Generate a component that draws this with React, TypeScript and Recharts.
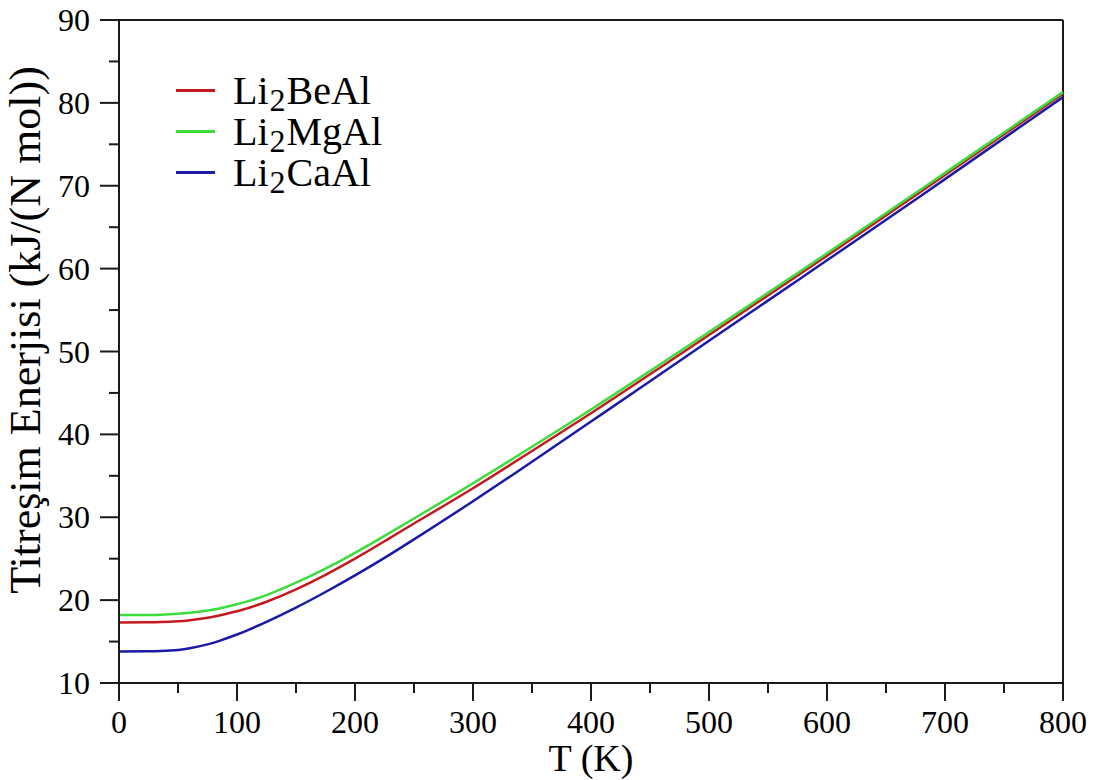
import { LineChart, Line, XAxis, YAxis, ReferenceLine, Legend } from 'recharts';

// temperature grid (K)
const temperatures = [0, 25, 35, 50, 60, 75, 85, 100, 110, 125, 150, 175, 200, 225, 250, 300, 350, 400, 450, 500, 600, 700, 800];

// vibrational energy, kJ/(N mol)
const li2BeAl = [17.3, 17.32, 17.35, 17.45, 17.58, 17.88, 18.15, 18.65, 19.07, 19.8, 21.3, 23.05, 25.0, 27.1, 29.25, 33.5, 38.0, 42.55, 47.25, 52.0, 61.55, 71.3, 81.1];
const li2MgAl = [18.2, 18.22, 18.25, 18.35, 18.47, 18.75, 19.0, 19.5, 19.9, 20.6, 22.1, 23.8, 25.7, 27.75, 29.85, 34.1, 38.5, 43.0, 47.65, 52.35, 61.85, 71.55, 81.3];
const li2CaAl = [13.8, 13.82, 13.86, 13.99, 14.19, 14.66, 15.08, 15.85, 16.43, 17.38, 19.1, 20.98, 22.98, 25.1, 27.33, 31.93, 36.7, 41.55, 46.4, 51.3, 61.0, 70.8, 80.7];

const xTicks = [0, 50, 100, 150, 200, 250, 300, 350, 400, 450, 500, 550, 600, 650, 700, 750, 800];
const yTicks = [10, 15, 20, 25, 30, 35, 40, 45, 50, 55, 60, 65, 70, 75, 80, 85, 90];

const series = [
    { key: 'be', name: 'BeAl', color: '#c41a1f' },
    { key: 'mg', name: 'MgAl', color: '#3ddc3d' },
    { key: 'ca', name: 'CaAl', color: '#1a1aa6' },
];

const chartData = temperatures.map((t, i) => ({
    t,
    be: li2BeAl[i],
    mg: li2MgAl[i],
    ca: li2CaAl[i],
}));

const FONT = 'Liberation Serif, serif';
const AXIS = '#1a1a1a';

function XTick(props: any) {
    const { x, y, payload } = props;
    const major = payload.value % 100 === 0;
    return (
        <g>
            <line x1={x} x2={x} y1={y} y2={y + (major ? 18 : 10)} stroke={AXIS} strokeWidth={2} />
            {major && (
                <text x={x} y={y + 50} textAnchor="middle" fill="#000" fontFamily={FONT} fontSize={32}>
                    {payload.value}
                </text>
            )}
        </g>
    );
}

function YTick(props: any) {
    const { x, y, payload } = props;
    const major = payload.value % 10 === 0;
    return (
        <g>
            <line x1={x - (major ? 19 : 10)} x2={x} y1={y} y2={y} stroke={AXIS} strokeWidth={2} />
            {major && (
                <text x={x - 29} y={y + 11} textAnchor="end" fill="#000" fontFamily={FONT} fontSize={32}>
                    {payload.value}
                </text>
            )}
        </g>
    );
}

function LegendBox() {
    return (
        <div style={{ fontFamily: FONT }}>
            {series.map((s) => (
                <div key={s.key} style={{ display: 'flex', alignItems: 'center', height: 41 }}>
                    <span style={{ display: 'inline-block', width: 39, height: 3, background: s.color }} />
                    <span style={{ marginLeft: 18, fontSize: 40, lineHeight: '41px', whiteSpace: 'nowrap' }}>
                        Li<span style={{ fontSize: 32, verticalAlign: -7, lineHeight: 0, margin: '0 1px' }}>2</span>{s.name}
                    </span>
                </div>
            ))}
        </div>
    );
}

export default function App() {
    return (
        <div style={{ position: 'absolute', left: 0, top: 0, width: 1093, height: 780, background: '#fff', fontFamily: FONT }}>
            <LineChart width={1093} height={780} data={chartData} margin={{ top: 20, right: 30, bottom: 0, left: 0 }}>
                <XAxis
                    type="number"
                    dataKey="t"
                    domain={[0, 800]}
                    ticks={xTicks}
                    interval={0}
                    tick={<XTick />}
                    tickLine={false}
                    tickSize={0}
                    tickMargin={0}
                    axisLine={{ stroke: AXIS, strokeWidth: 2 }}
                    height={97}
                    label={{
                        content: () => (
                            <text x={591} y={771} textAnchor="middle" fill="#000" fontFamily={FONT} fontSize={38}>
                                T (K)
                            </text>
                        ),
                    }}
                />
                <YAxis
                    type="number"
                    domain={[10, 90]}
                    ticks={yTicks}
                    interval={0}
                    tick={<YTick />}
                    tickLine={false}
                    tickSize={0}
                    tickMargin={0}
                    axisLine={{ stroke: AXIS, strokeWidth: 2 }}
                    width={119}
                    label={{
                        content: () => (
                            <text
                                transform="translate(40, 330) rotate(-90)"
                                textAnchor="middle"
                                fill="#000"
                                fontFamily={FONT}
                                fontSize={44}
                            >
                                Titreşim Enerjisi (kJ/(N mol))
                            </text>
                        ),
                    }}
                />
                <ReferenceLine y={90} stroke={AXIS} strokeWidth={2} />
                <ReferenceLine x={800} stroke={AXIS} strokeWidth={2} />
                <Line type="natural" dataKey="ca" stroke="#1a1aa6" strokeWidth={2.5} dot={false} isAnimationActive={false} />
                <Line type="natural" dataKey="be" stroke="#c41a1f" strokeWidth={2.5} dot={false} isAnimationActive={false} />
                <Line type="natural" dataKey="mg" stroke="#3ddc3d" strokeWidth={2.5} dot={false} isAnimationActive={false} />
                <Legend
                    layout="vertical"
                    align="center"
                    verticalAlign="middle"
                    content={() => <LegendBox />}
                    wrapperStyle={{ position: 'absolute', left: 176, top: 70, width: 'auto' }}
                />
            </LineChart>
        </div>
    );
}
